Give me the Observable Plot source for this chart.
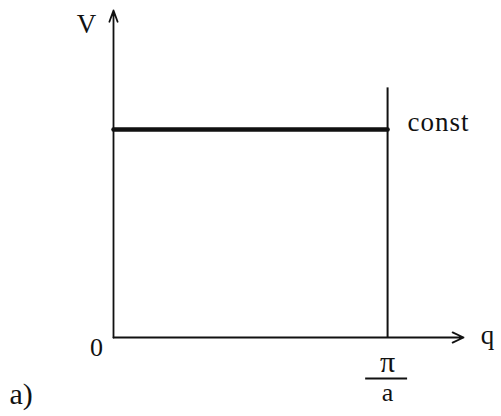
<!DOCTYPE html>
<html>
<head>
<meta charset="utf-8">
<script src="https://cdn.jsdelivr.net/npm/d3@7"></script>
<script src="https://cdn.jsdelivr.net/npm/@observablehq/plot@0.6"></script>
<style>
  html, body { margin: 0; padding: 0; background: #fff; }
  #chart svg { display: block; }
  #chart svg text { font-family: "Liberation Serif", "DejaVu Serif", serif !important; }
</style>
</head>
<body>
<div id="chart"></div>
<script>
// Wave vector q in units of π/a, group velocity V in units of the constant value
const qBand = [0, 1];          // q from 0 to the zone edge π/a
const vBand = [1, 1];          // V is constant across the zone
const zoneEdge = [1];          // q = π/a
const edgeTop = [1.2];         // height of the zone-edge line
const qAxisEnd = 1.277;        // end of the q axis arrow
const vAxisEnd = 1.572;        // end of the V axis arrow

const serif = "Liberation Serif, DejaVu Serif, serif";
const ink = "#111";

const band = qBand.map((q, i) => ({q, v: vBand[i]}));

const label = (txt, opts) => Plot.text([txt], {text: d => d, fontFamily: serif, fill: ink, ...opts});

const chart = Plot.plot({
  width: 501,
  height: 416,
  marginLeft: 113,
  marginRight: 38,
  marginTop: 10,
  marginBottom: 79,
  x: {domain: [0, qAxisEnd], axis: null},
  y: {domain: [0, vAxisEnd], axis: null},
  style: {background: "#fff", overflow: "visible"},
  marks: [
    // axes with arrow heads
    Plot.arrow([{x1: 0, y1: 0, x2: qAxisEnd, y2: 0}], {
      x1: "x1", y1: "y1", x2: "x2", y2: "y2",
      stroke: ink, strokeWidth: 1.8, headLength: 10, headAngle: 50, insetStart: 0, insetEnd: 0
    }),
    Plot.arrow([{x1: 0, y1: 0, x2: 0, y2: vAxisEnd}], {
      x1: "x1", y1: "y1", x2: "x2", y2: "y2",
      stroke: ink, strokeWidth: 1.8, headLength: 10, headAngle: 40, insetStart: 0, insetEnd: 0
    }),
    // zone-edge line at q = π/a
    Plot.ruleX(zoneEdge, {x: d => d, y1: 0, y2: (d, i) => edgeTop[i], stroke: ink, strokeWidth: 2}),
    // constant group velocity
    Plot.line(band, {x: "q", y: "v", stroke: ink, strokeWidth: 4.5}),
    // labels
    label("V", {x: 0, y: vAxisEnd, dx: -27, dy: 14, fontSize: 27}),
    label("q", {x: qAxisEnd, y: 0, dx: 24, dy: -2, fontSize: 27}),
    label("0", {x: 0, y: 0, dx: -17, dy: 10, fontSize: 26}),
    label("const", {x: zoneEdge[0], y: vBand[1], textAnchor: "start", dx: 20, dy: -7.5, fontSize: 27}),
    // π/a tick label as a stacked fraction
    label("π", {x: zoneEdge[0], y: 0, dy: 25, fontSize: 30}),
    Plot.ruleY([0], {x1: zoneEdge[0] - 0.08, x2: zoneEdge[0] + 0.073, dy: 41, stroke: ink, strokeWidth: 1.8}),
    label("a", {x: zoneEdge[0], y: 0, dy: 55, fontSize: 26}),
    // panel label
    label("a)", {frameAnchor: "bottom-left", textAnchor: "start", dx: -104, dy: 66, fontSize: 30})
  ]
});

// slightly looser tracking on the "const" annotation
d3.select(chart).selectAll("text")
  .filter(function () { return this.textContent === "const"; })
  .style("letter-spacing", "1px");

document.getElementById("chart").appendChild(chart);
</script>
</body>
</html>
